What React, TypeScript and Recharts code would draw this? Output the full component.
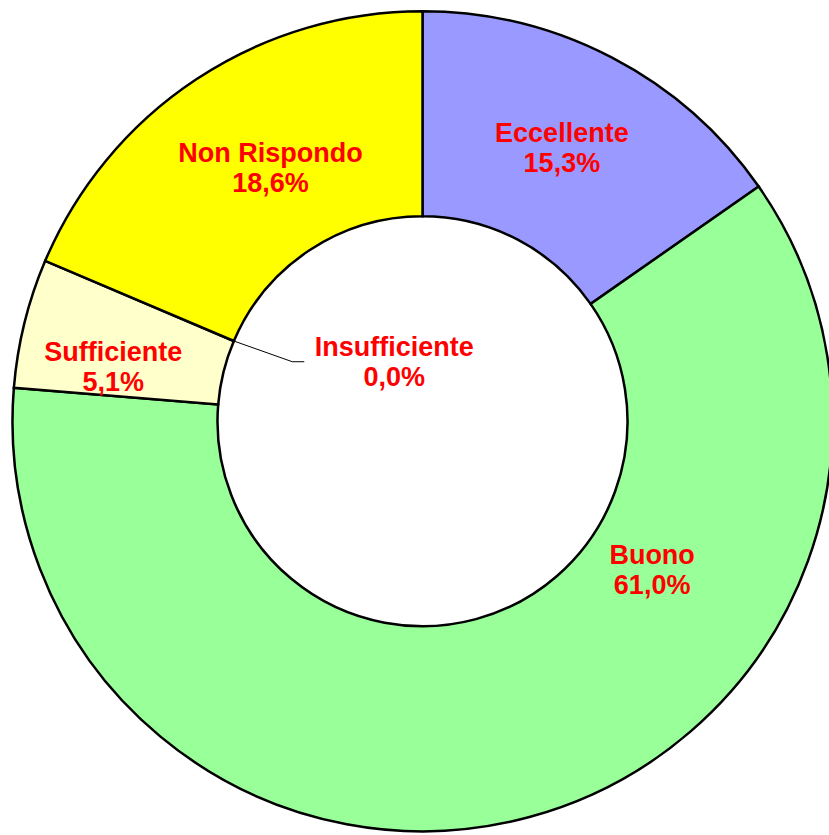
import React from 'react';
import { PieChart, Pie, Cell } from 'recharts';

const categories = ['Eccellente', 'Buono', 'Sufficiente', 'Insufficiente', 'Non Rispondo'];
const values = [15.3, 61.0, 5.1, 0.0, 18.6];
const colors = ['#9999FF', '#99FF99', '#FFFFCC', '#FF99CC', '#FFFF00'];

// label placement: clockwise degrees from 12 o'clock, distance from centre
const labelAngles = [27.0, 122.9, 280.1, 334.9, 329.1];
const labelRadii = [307, 273.5, 314, 66.5, 296];

const data = categories.map((name, i) => ({ name, value: values[i] }));

const fmt = (v: number) => v.toFixed(1).replace('.', ',') + '%';

const renderLabel = (props: any) => {
  const { cx, cy, index, midAngle, innerRadius } = props;
  const a = (labelAngles[index] * Math.PI) / 180;
  const r = labelRadii[index];
  const x = cx + r * Math.sin(a);
  const y = cy - r * Math.cos(a);
  const v = values[index];
  const font = {
    fontFamily: '"Liberation Sans", Arial, sans-serif',
    fontWeight: 700,
    fontSize: 27,
    fill: '#FF0000',
  };
  let leader: React.ReactNode = null;
  if (v === 0) {
    const m = (midAngle * Math.PI) / 180;
    const sx = cx + innerRadius * Math.cos(m);
    const sy = cy - innerRadius * Math.sin(m);
    const ey = y + 0.7;
    const ex = x - 90;
    const bx = x - 102;
    leader = (
      <polyline
        points={`${sx},${sy} ${bx},${ey} ${ex},${ey}`}
        fill="none"
        stroke="#000"
        strokeWidth={1}
      />
    );
  }
  return (
    <g key={`lbl-${index}`}>
      {leader}
      <text x={x} y={y} textAnchor="middle" {...font}>
        <tspan x={x} dy={-5.5}>{categories[index]}</tspan>
        <tspan x={x} dy={30}>{fmt(v)}</tspan>
      </text>
    </g>
  );
};

export default function App() {
  return (
    <div style={{ position: 'absolute', left: 0, top: 0, background: '#fff' }}>
      <PieChart width={829} height={835} margin={{ top: 0, right: 0, bottom: 0, left: 0 }}>
        <Pie
          data={data}
          dataKey="value"
          nameKey="name"
          cx={422.5}
          cy={421.25}
          innerRadius={205}
          outerRadius={410}
          startAngle={90}
          endAngle={-270}
          stroke="#000"
          strokeWidth={2.5}
          label={renderLabel}
          labelLine={false}
          isAnimationActive={false}
        >
          {data.map((d, i) => (
            <Cell key={d.name} fill={colors[i]} stroke="#000" strokeWidth={2.5} />
          ))}
        </Pie>
      </PieChart>
    </div>
  );
}
